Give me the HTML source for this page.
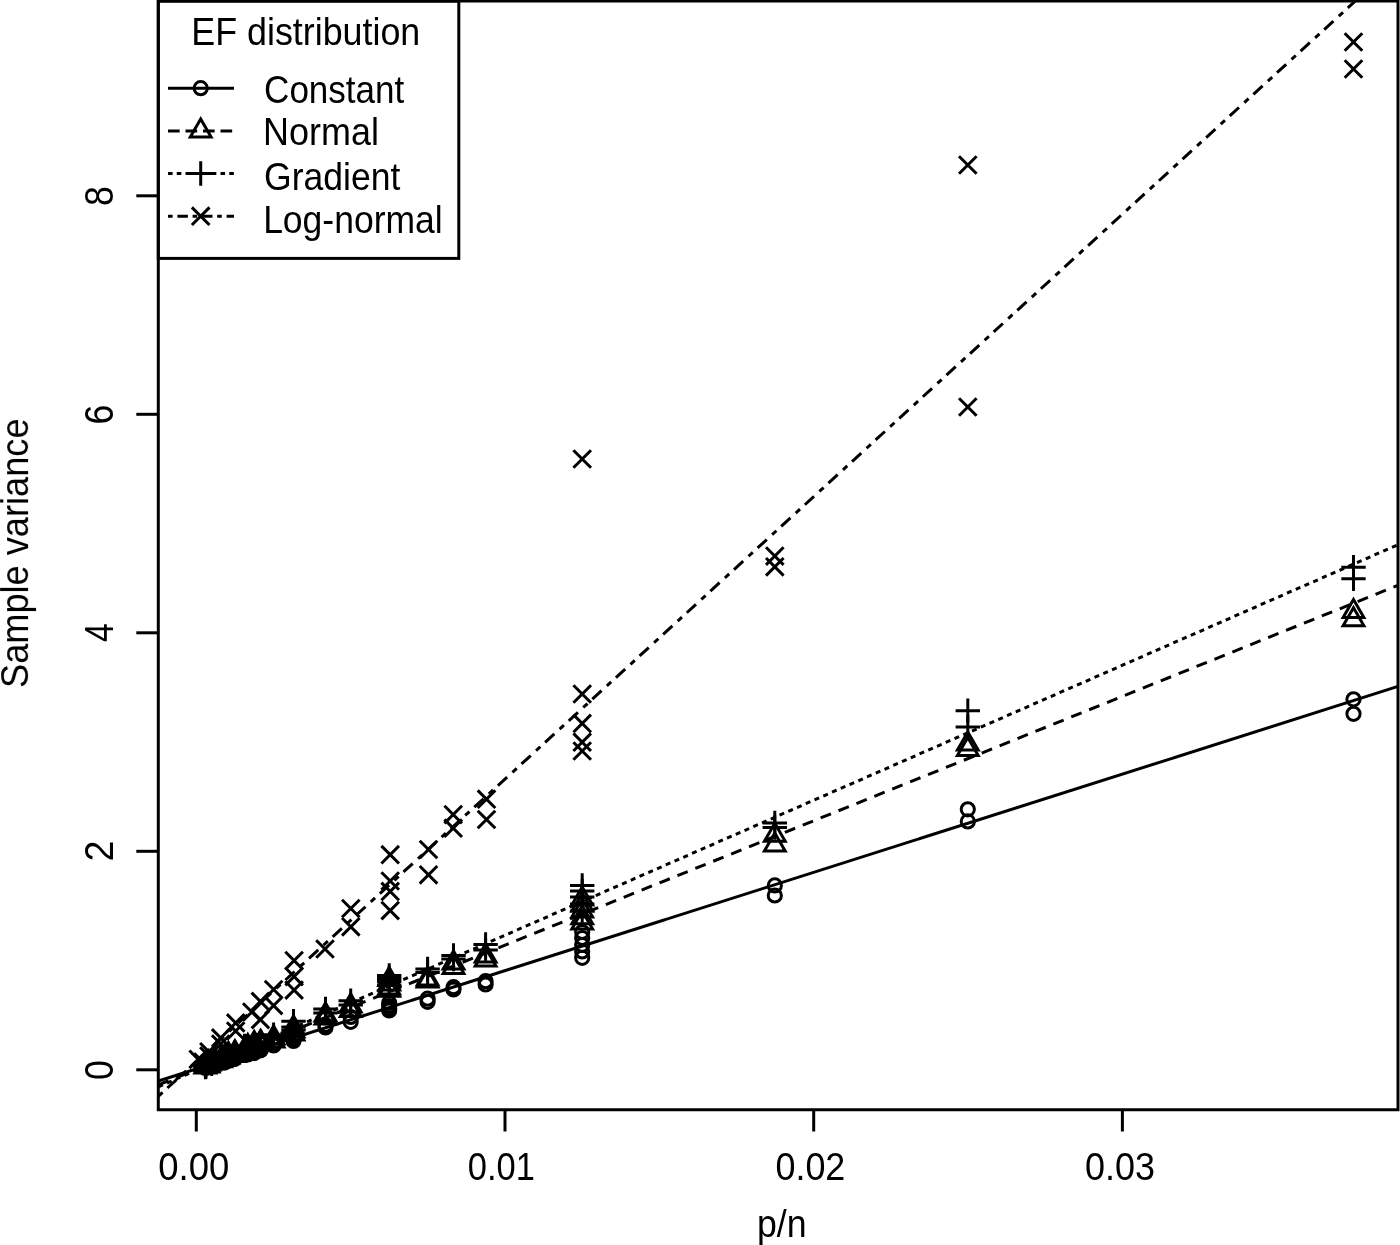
<!DOCTYPE html>
<html><head><meta charset="utf-8"><title>EF distribution plot</title>
<style>
html,body{margin:0;padding:0;background:#fff;}
body{width:1400px;height:1245px;overflow:hidden;}
svg{display:block;}
text{font-family:"Liberation Sans",Arial,Helvetica,sans-serif;fill:#000;}
.l{stroke:#000;stroke-width:3.0;fill:none;stroke-linecap:butt;}
.s{stroke:#000;stroke-width:3;fill:none;stroke-linecap:square;}
</style></head><body>
<svg width="1400" height="1245" viewBox="0 0 1400 1245">
<defs><clipPath id="cp"><rect x="158.3" y="0" width="1240" height="1109.7"/></clipPath>
<filter id="b" x="-2%" y="-2%" width="104%" height="104%"><feGaussianBlur stdDeviation="0.6"/></filter></defs>
<rect width="1400" height="1245" fill="#fff"/>
<g filter="url(#b)">

<path class="s" d="M158.3 1.1H1398.0V1109.7H158.3Z"/>
<path class="l" d="M196.3 1109.7V1131.5"/>
<path class="l" d="M505.0 1109.7V1131.5"/>
<path class="l" d="M813.7 1109.7V1131.5"/>
<path class="l" d="M1122.4 1109.7V1131.5"/>
<text transform="translate(158.30 1179.60) scale(0.9479 1.0)" font-size="38.5">0.00</text>
<text transform="translate(467.81 1179.60) scale(0.8958 1.0)" font-size="38.5">0.01</text>
<text transform="translate(775.44 1179.60) scale(0.9324 1.0)" font-size="38.5">0.02</text>
<text transform="translate(1084.93 1179.60) scale(0.9338 1.0)" font-size="38.5">0.03</text>
<path class="l" d="M158.3 1069.8H136.3"/>
<text transform="translate(112.90 1080.01) rotate(-90) scale(0.9278 1.07)" font-size="38.5">0</text>
<path class="l" d="M158.3 851.3H136.3"/>
<text transform="translate(112.90 861.61) rotate(-90) scale(0.9824 1.07)" font-size="38.5">2</text>
<path class="l" d="M158.3 632.8H136.3"/>
<text transform="translate(112.90 642.03) rotate(-90) scale(0.8789 1.07)" font-size="38.5">4</text>
<path class="l" d="M158.3 414.3H136.3"/>
<text transform="translate(112.90 424.51) rotate(-90) scale(0.9278 1.07)" font-size="38.5">6</text>
<path class="l" d="M158.3 195.8H136.3"/>
<text transform="translate(112.90 206.01) rotate(-90) scale(0.9278 1.07)" font-size="38.5">8</text>
<text transform="translate(756.92 1237.00) scale(0.9271 1.0)" font-size="38.5">p/n</text>
<text transform="translate(28.10 687.98) rotate(-90) scale(0.9403 1.0)" font-size="38.5">Sample variance</text>
<g clip-path="url(#cp)">
<path class="l" stroke-width="2.9" d="M158.3 1081.0L1398.0 686.4"/>
<path class="l" stroke-width="2.85" d="M158.3 1084.9L1398.0 585.3" stroke-dasharray="11.1 8.2"/>
<path class="l" stroke-width="2.9" d="M158.3 1086.9L1398.0 544.7" stroke-dasharray="5.0 4.55"/>
<path class="l" stroke-width="2.3" d="M158.3 1096.3L1398.0 -38.0" stroke-dasharray="5.8 6.5 12.5 7.2"/>
<circle class="l" stroke-width="2.5" cx="1353.5" cy="699.3" r="6.6"/>
<circle class="l" stroke-width="2.5" cx="1353.5" cy="713.8" r="6.6"/>
<circle class="l" stroke-width="2.5" cx="967.8" cy="809.3" r="6.6"/>
<circle class="l" stroke-width="2.5" cx="967.8" cy="821.4" r="6.6"/>
<circle class="l" stroke-width="2.5" cx="774.8" cy="885.4" r="6.6"/>
<circle class="l" stroke-width="2.5" cx="774.8" cy="895.5" r="6.6"/>
<circle class="l" stroke-width="2.5" cx="582.2" cy="932.0" r="6.6"/>
<circle class="l" stroke-width="2.5" cx="582.2" cy="938.0" r="6.6"/>
<circle class="l" stroke-width="2.5" cx="582.2" cy="945.0" r="6.6"/>
<circle class="l" stroke-width="2.5" cx="582.2" cy="951.5" r="6.6"/>
<circle class="l" stroke-width="2.5" cx="582.2" cy="957.8" r="6.6"/>
<circle class="l" stroke-width="2.5" cx="485.6" cy="981.2" r="6.6"/>
<circle class="l" stroke-width="2.5" cx="485.6" cy="984.5" r="6.6"/>
<circle class="l" stroke-width="2.5" cx="453.5" cy="987.2" r="6.6"/>
<circle class="l" stroke-width="2.5" cx="453.5" cy="989.5" r="6.6"/>
<circle class="l" stroke-width="2.5" cx="427.6" cy="998.7" r="6.6"/>
<circle class="l" stroke-width="2.5" cx="427.6" cy="1001.8" r="6.6"/>
<circle class="l" stroke-width="2.5" cx="389.2" cy="1003.0" r="6.6"/>
<circle class="l" stroke-width="2.5" cx="389.2" cy="1006.0" r="6.6"/>
<circle class="l" stroke-width="2.5" cx="389.2" cy="1008.5" r="6.6"/>
<circle class="l" stroke-width="2.5" cx="389.2" cy="1010.5" r="6.6"/>
<circle class="l" stroke-width="2.5" cx="350.7" cy="1017.0" r="6.6"/>
<circle class="l" stroke-width="2.5" cx="350.7" cy="1021.8" r="6.6"/>
<circle class="l" stroke-width="2.5" cx="325.5" cy="1025.0" r="6.6"/>
<circle class="l" stroke-width="2.5" cx="325.5" cy="1027.5" r="6.6"/>
<circle class="l" stroke-width="2.5" cx="293.5" cy="1036.0" r="6.6"/>
<circle class="l" stroke-width="2.5" cx="293.5" cy="1038.5" r="6.6"/>
<circle class="l" stroke-width="2.5" cx="293.5" cy="1041.0" r="6.6"/>
<circle class="l" stroke-width="2.5" cx="273.6" cy="1043.0" r="6.6"/>
<circle class="l" stroke-width="2.5" cx="273.6" cy="1045.5" r="6.6"/>
<circle class="l" stroke-width="2.5" cx="260.6" cy="1050.3" r="6.6"/>
<circle class="l" stroke-width="2.5" cx="260.6" cy="1049.8" r="6.6"/>
<circle class="l" stroke-width="2.5" cx="260.6" cy="1049.1" r="6.6"/>
<circle class="l" stroke-width="2.5" cx="254.2" cy="1051.7" r="6.6"/>
<circle class="l" stroke-width="2.5" cx="254.2" cy="1052.0" r="6.6"/>
<circle class="l" stroke-width="2.5" cx="254.2" cy="1053.1" r="6.6"/>
<circle class="l" stroke-width="2.5" cx="247.8" cy="1051.8" r="6.6"/>
<circle class="l" stroke-width="2.5" cx="247.8" cy="1054.5" r="6.6"/>
<circle class="l" stroke-width="2.5" cx="247.8" cy="1051.0" r="6.6"/>
<circle class="l" stroke-width="2.5" cx="244.5" cy="1054.1" r="6.6"/>
<circle class="l" stroke-width="2.5" cx="244.5" cy="1054.6" r="6.6"/>
<circle class="l" stroke-width="2.5" cx="244.5" cy="1053.9" r="6.6"/>
<circle class="l" stroke-width="2.5" cx="234.9" cy="1058.8" r="6.6"/>
<circle class="l" stroke-width="2.5" cx="234.9" cy="1056.1" r="6.6"/>
<circle class="l" stroke-width="2.5" cx="234.9" cy="1057.1" r="6.6"/>
<circle class="l" stroke-width="2.5" cx="228.4" cy="1059.3" r="6.6"/>
<circle class="l" stroke-width="2.5" cx="228.4" cy="1060.5" r="6.6"/>
<circle class="l" stroke-width="2.5" cx="228.4" cy="1060.6" r="6.6"/>
<circle class="l" stroke-width="2.5" cx="225.2" cy="1060.1" r="6.6"/>
<circle class="l" stroke-width="2.5" cx="225.2" cy="1060.0" r="6.6"/>
<circle class="l" stroke-width="2.5" cx="221.0" cy="1062.2" r="6.6"/>
<circle class="l" stroke-width="2.5" cx="221.0" cy="1060.4" r="6.6"/>
<circle class="l" stroke-width="2.5" cx="215.6" cy="1063.1" r="6.6"/>
<circle class="l" stroke-width="2.5" cx="215.6" cy="1061.8" r="6.6"/>
<circle class="l" stroke-width="2.5" cx="211.7" cy="1065.0" r="6.6"/>
<circle class="l" stroke-width="2.5" cx="211.7" cy="1065.4" r="6.6"/>
<circle class="l" stroke-width="2.5" cx="208.6" cy="1064.5" r="6.6"/>
<circle class="l" stroke-width="2.5" cx="208.6" cy="1065.6" r="6.6"/>
<circle class="l" stroke-width="2.5" cx="205.9" cy="1065.8" r="6.6"/>
<circle class="l" stroke-width="2.5" cx="205.9" cy="1065.9" r="6.6"/>
<circle class="l" stroke-width="2.5" cx="205.4" cy="1068.0" r="6.6"/>
<path class="l" stroke-width="2.7" stroke-linejoin="miter" d="M1353.5 599.5L1363.9 617.5H1343.1Z"/>
<path class="l" stroke-width="2.7" stroke-linejoin="miter" d="M1353.5 607.7L1363.9 625.7H1343.1Z"/>
<path class="l" stroke-width="2.7" stroke-linejoin="miter" d="M967.8 732.1L978.2 750.1H957.4Z"/>
<path class="l" stroke-width="2.7" stroke-linejoin="miter" d="M967.8 737.5L978.2 755.5H957.4Z"/>
<path class="l" stroke-width="2.7" stroke-linejoin="miter" d="M774.8 823.3L785.2 841.3H764.4Z"/>
<path class="l" stroke-width="2.7" stroke-linejoin="miter" d="M774.8 833.0L785.2 851.0H764.4Z"/>
<path class="l" stroke-width="2.7" stroke-linejoin="miter" d="M582.2 887.0L592.6 905.0H571.8Z"/>
<path class="l" stroke-width="2.7" stroke-linejoin="miter" d="M582.2 893.0L592.6 911.0H571.8Z"/>
<path class="l" stroke-width="2.7" stroke-linejoin="miter" d="M582.2 899.0L592.6 917.0H571.8Z"/>
<path class="l" stroke-width="2.7" stroke-linejoin="miter" d="M582.2 905.7L592.6 923.7H571.8Z"/>
<path class="l" stroke-width="2.7" stroke-linejoin="miter" d="M582.2 911.0L592.6 929.0H571.8Z"/>
<path class="l" stroke-width="2.7" stroke-linejoin="miter" d="M485.6 944.1L496.0 962.1H475.2Z"/>
<path class="l" stroke-width="2.7" stroke-linejoin="miter" d="M485.6 948.1L496.0 966.1H475.2Z"/>
<path class="l" stroke-width="2.7" stroke-linejoin="miter" d="M453.5 951.1L463.9 969.1H443.1Z"/>
<path class="l" stroke-width="2.7" stroke-linejoin="miter" d="M453.5 955.6L463.9 973.6H443.1Z"/>
<path class="l" stroke-width="2.7" stroke-linejoin="miter" d="M427.6 967.1L438.0 985.1H417.2Z"/>
<path class="l" stroke-width="2.7" stroke-linejoin="miter" d="M427.6 969.1L438.0 987.1H417.2Z"/>
<path class="l" stroke-width="2.7" stroke-linejoin="miter" d="M389.2 967.5L399.6 985.5H378.8Z"/>
<path class="l" stroke-width="2.7" stroke-linejoin="miter" d="M389.2 972.0L399.6 990.0H378.8Z"/>
<path class="l" stroke-width="2.7" stroke-linejoin="miter" d="M389.2 976.0L399.6 994.0H378.8Z"/>
<path class="l" stroke-width="2.7" stroke-linejoin="miter" d="M389.2 978.2L399.6 996.2H378.8Z"/>
<path class="l" stroke-width="2.7" stroke-linejoin="miter" d="M350.7 994.0L361.1 1012.0H340.3Z"/>
<path class="l" stroke-width="2.7" stroke-linejoin="miter" d="M350.7 998.5L361.1 1016.5H340.3Z"/>
<path class="l" stroke-width="2.7" stroke-linejoin="miter" d="M325.5 1003.0L335.9 1021.0H315.1Z"/>
<path class="l" stroke-width="2.7" stroke-linejoin="miter" d="M325.5 1006.0L335.9 1024.0H315.1Z"/>
<path class="l" stroke-width="2.7" stroke-linejoin="miter" d="M293.5 1016.0L303.9 1034.0H283.1Z"/>
<path class="l" stroke-width="2.7" stroke-linejoin="miter" d="M293.5 1019.0L303.9 1037.0H283.1Z"/>
<path class="l" stroke-width="2.7" stroke-linejoin="miter" d="M293.5 1022.0L303.9 1040.0H283.1Z"/>
<path class="l" stroke-width="2.7" stroke-linejoin="miter" d="M273.6 1026.0L284.0 1044.0H263.2Z"/>
<path class="l" stroke-width="2.7" stroke-linejoin="miter" d="M273.6 1029.0L284.0 1047.0H263.2Z"/>
<path class="l" stroke-width="2.7" stroke-linejoin="miter" d="M260.6 1031.0L271.0 1049.0H250.2Z"/>
<path class="l" stroke-width="2.7" stroke-linejoin="miter" d="M260.6 1030.6L271.0 1048.6H250.2Z"/>
<path class="l" stroke-width="2.7" stroke-linejoin="miter" d="M260.6 1031.4L271.0 1049.4H250.2Z"/>
<path class="l" stroke-width="2.7" stroke-linejoin="miter" d="M254.2 1031.6L264.6 1049.6H243.8Z"/>
<path class="l" stroke-width="2.7" stroke-linejoin="miter" d="M254.2 1033.6L264.6 1051.6H243.8Z"/>
<path class="l" stroke-width="2.7" stroke-linejoin="miter" d="M254.2 1034.6L264.6 1052.6H243.8Z"/>
<path class="l" stroke-width="2.7" stroke-linejoin="miter" d="M247.8 1034.6L258.2 1052.6H237.4Z"/>
<path class="l" stroke-width="2.7" stroke-linejoin="miter" d="M247.8 1036.6L258.2 1054.6H237.4Z"/>
<path class="l" stroke-width="2.7" stroke-linejoin="miter" d="M247.8 1036.4L258.2 1054.4H237.4Z"/>
<path class="l" stroke-width="2.7" stroke-linejoin="miter" d="M244.5 1039.2L254.8 1057.2H234.1Z"/>
<path class="l" stroke-width="2.7" stroke-linejoin="miter" d="M244.5 1040.1L254.8 1058.1H234.1Z"/>
<path class="l" stroke-width="2.7" stroke-linejoin="miter" d="M244.5 1038.1L254.8 1056.1H234.1Z"/>
<path class="l" stroke-width="2.7" stroke-linejoin="miter" d="M234.9 1043.4L245.3 1061.4H224.5Z"/>
<path class="l" stroke-width="2.7" stroke-linejoin="miter" d="M234.9 1040.7L245.3 1058.7H224.5Z"/>
<path class="l" stroke-width="2.7" stroke-linejoin="miter" d="M234.9 1042.8L245.3 1060.8H224.5Z"/>
<path class="l" stroke-width="2.7" stroke-linejoin="miter" d="M228.4 1043.0L238.8 1061.0H218.0Z"/>
<path class="l" stroke-width="2.7" stroke-linejoin="miter" d="M228.4 1042.7L238.8 1060.7H218.0Z"/>
<path class="l" stroke-width="2.7" stroke-linejoin="miter" d="M228.4 1045.1L238.8 1063.1H218.0Z"/>
<path class="l" stroke-width="2.7" stroke-linejoin="miter" d="M225.2 1044.6L235.6 1062.6H214.8Z"/>
<path class="l" stroke-width="2.7" stroke-linejoin="miter" d="M225.2 1046.3L235.6 1064.3H214.8Z"/>
<path class="l" stroke-width="2.7" stroke-linejoin="miter" d="M221.0 1048.8L231.4 1066.8H210.6Z"/>
<path class="l" stroke-width="2.7" stroke-linejoin="miter" d="M221.0 1047.8L231.4 1065.8H210.6Z"/>
<path class="l" stroke-width="2.7" stroke-linejoin="miter" d="M215.6 1050.4L226.0 1068.4H205.2Z"/>
<path class="l" stroke-width="2.7" stroke-linejoin="miter" d="M215.6 1050.3L226.0 1068.3H205.2Z"/>
<path class="l" stroke-width="2.7" stroke-linejoin="miter" d="M211.7 1051.0L222.1 1069.0H201.3Z"/>
<path class="l" stroke-width="2.7" stroke-linejoin="miter" d="M211.7 1050.2L222.1 1068.2H201.3Z"/>
<path class="l" stroke-width="2.7" stroke-linejoin="miter" d="M208.6 1052.0L219.0 1070.0H198.3Z"/>
<path class="l" stroke-width="2.7" stroke-linejoin="miter" d="M208.6 1053.9L219.0 1071.9H198.3Z"/>
<path class="l" stroke-width="2.7" stroke-linejoin="miter" d="M205.9 1052.3L216.3 1070.3H195.6Z"/>
<path class="l" stroke-width="2.7" stroke-linejoin="miter" d="M205.9 1052.3L216.3 1070.3H195.6Z"/>
<path class="l" stroke-width="2.7" stroke-linejoin="miter" d="M205.4 1055.0L215.8 1073.0H195.0Z"/>
<path class="l" d="M1341.3 567.2H1365.7M1353.5 555.0V579.4"/>
<path class="l" d="M1341.3 578.8H1365.7M1353.5 566.6V591.0"/>
<path class="l" d="M955.6 710.7H980.0M967.8 698.5V722.9"/>
<path class="l" d="M955.6 726.9H980.0M967.8 714.7V739.1"/>
<path class="l" d="M762.6 823.0H787.0M774.8 810.8V835.2"/>
<path class="l" d="M762.6 827.5H787.0M774.8 815.3V839.7"/>
<path class="l" d="M570.0 885.5H594.4M582.2 873.3V897.7"/>
<path class="l" d="M570.0 891.0H594.4M582.2 878.8V903.2"/>
<path class="l" d="M570.0 897.0H594.4M582.2 884.8V909.2"/>
<path class="l" d="M570.0 904.0H594.4M582.2 891.8V916.2"/>
<path class="l" d="M570.0 911.0H594.4M582.2 898.8V923.2"/>
<path class="l" d="M473.4 944.5H497.8M485.6 932.3V956.7"/>
<path class="l" d="M473.4 950.0H497.8M485.6 937.8V962.2"/>
<path class="l" d="M441.3 955.5H465.7M453.5 943.3V967.7"/>
<path class="l" d="M441.3 959.0H465.7M453.5 946.8V971.2"/>
<path class="l" d="M415.4 969.0H439.8M427.6 956.8V981.2"/>
<path class="l" d="M415.4 972.5H439.8M427.6 960.3V984.7"/>
<path class="l" d="M377.0 975.5H401.4M389.2 963.3V987.7"/>
<path class="l" d="M377.0 978.5H401.4M389.2 966.3V990.7"/>
<path class="l" d="M377.0 981.5H401.4M389.2 969.3V993.7"/>
<path class="l" d="M377.0 985.0H401.4M389.2 972.8V997.2"/>
<path class="l" d="M338.5 1000.7H362.9M350.7 988.5V1012.9"/>
<path class="l" d="M338.5 1005.0H362.9M350.7 992.8V1017.2"/>
<path class="l" d="M313.3 1009.0H337.7M325.5 996.8V1021.2"/>
<path class="l" d="M313.3 1013.0H337.7M325.5 1000.8V1025.2"/>
<path class="l" d="M281.3 1021.3H305.7M293.5 1009.1V1033.5"/>
<path class="l" d="M281.3 1027.0H305.7M293.5 1014.8V1039.2"/>
<path class="l" d="M281.3 1030.0H305.7M293.5 1017.8V1042.2"/>
<path class="l" d="M261.4 1034.8H285.8M273.6 1022.6V1047.0"/>
<path class="l" d="M261.4 1037.5H285.8M273.6 1025.3V1049.7"/>
<path class="l" d="M248.4 1042.1H272.8M260.6 1029.9V1054.3"/>
<path class="l" d="M248.4 1042.3H272.8M260.6 1030.1V1054.5"/>
<path class="l" d="M248.4 1044.4H272.8M260.6 1032.2V1056.6"/>
<path class="l" d="M242.0 1046.3H266.4M254.2 1034.1V1058.5"/>
<path class="l" d="M242.0 1046.3H266.4M254.2 1034.1V1058.5"/>
<path class="l" d="M242.0 1046.9H266.4M254.2 1034.7V1059.1"/>
<path class="l" d="M235.6 1048.5H260.0M247.8 1036.3V1060.7"/>
<path class="l" d="M235.6 1047.0H260.0M247.8 1034.8V1059.2"/>
<path class="l" d="M235.6 1047.9H260.0M247.8 1035.7V1060.1"/>
<path class="l" d="M232.3 1049.6H256.7M244.5 1037.4V1061.8"/>
<path class="l" d="M232.3 1050.1H256.7M244.5 1037.9V1062.3"/>
<path class="l" d="M232.3 1045.9H256.7M244.5 1033.7V1058.1"/>
<path class="l" d="M222.7 1052.7H247.1M234.9 1040.5V1064.9"/>
<path class="l" d="M222.7 1054.8H247.1M234.9 1042.6V1067.0"/>
<path class="l" d="M222.7 1053.7H247.1M234.9 1041.5V1065.9"/>
<path class="l" d="M216.2 1056.1H240.6M228.4 1043.9V1068.3"/>
<path class="l" d="M216.2 1054.6H240.6M228.4 1042.4V1066.8"/>
<path class="l" d="M216.2 1056.6H240.6M228.4 1044.4V1068.8"/>
<path class="l" d="M213.0 1058.4H237.4M225.2 1046.2V1070.6"/>
<path class="l" d="M213.0 1055.1H237.4M225.2 1042.9V1067.3"/>
<path class="l" d="M208.8 1057.5H233.2M221.0 1045.3V1069.7"/>
<path class="l" d="M208.8 1059.4H233.2M221.0 1047.2V1071.6"/>
<path class="l" d="M203.4 1060.4H227.8M215.6 1048.2V1072.6"/>
<path class="l" d="M203.4 1060.0H227.8M215.6 1047.8V1072.2"/>
<path class="l" d="M199.5 1063.8H223.9M211.7 1051.6V1076.0"/>
<path class="l" d="M199.5 1060.7H223.9M211.7 1048.5V1072.9"/>
<path class="l" d="M196.4 1062.7H220.8M208.6 1050.5V1074.9"/>
<path class="l" d="M196.4 1063.0H220.8M208.6 1050.8V1075.2"/>
<path class="l" d="M193.7 1065.2H218.1M205.9 1053.0V1077.4"/>
<path class="l" d="M193.7 1066.9H218.1M205.9 1054.7V1079.1"/>
<path class="l" d="M193.2 1067.0H217.6M205.4 1054.8V1079.2"/>
<path class="l" stroke-width="2.25" d="M1344.7 33.2L1362.3 50.8M1344.7 50.8L1362.3 33.2"/>
<path class="l" stroke-width="2.25" d="M1344.7 60.2L1362.3 77.8M1344.7 77.8L1362.3 60.2"/>
<path class="l" stroke-width="2.25" d="M959.0 156.2L976.6 173.8M959.0 173.8L976.6 156.2"/>
<path class="l" stroke-width="2.25" d="M959.0 398.2L976.6 415.8M959.0 415.8L976.6 398.2"/>
<path class="l" stroke-width="2.25" d="M766.0 547.3L783.6 564.9M766.0 564.9L783.6 547.3"/>
<path class="l" stroke-width="2.25" d="M766.0 558.0L783.6 575.6M766.0 575.6L783.6 558.0"/>
<path class="l" stroke-width="2.25" d="M573.4 450.2L591.0 467.8M573.4 467.8L591.0 450.2"/>
<path class="l" stroke-width="2.25" d="M573.4 685.2L591.0 702.8M573.4 702.8L591.0 685.2"/>
<path class="l" stroke-width="2.25" d="M573.4 714.6L591.0 732.2M573.4 732.2L591.0 714.6"/>
<path class="l" stroke-width="2.25" d="M573.4 733.4L591.0 751.0M573.4 751.0L591.0 733.4"/>
<path class="l" stroke-width="2.25" d="M573.4 742.2L591.0 759.8M573.4 759.8L591.0 742.2"/>
<path class="l" stroke-width="2.25" d="M477.7 790.4L495.3 808.0M477.7 808.0L495.3 790.4"/>
<path class="l" stroke-width="2.25" d="M477.7 810.7L495.3 828.3M477.7 828.3L495.3 810.7"/>
<path class="l" stroke-width="2.25" d="M444.4 805.8L462.0 823.4M444.4 823.4L462.0 805.8"/>
<path class="l" stroke-width="2.25" d="M444.4 819.4L462.0 837.0M444.4 837.0L462.0 819.4"/>
<path class="l" stroke-width="2.25" d="M419.7 840.7L437.3 858.3M419.7 858.3L437.3 840.7"/>
<path class="l" stroke-width="2.25" d="M419.7 866.0L437.3 883.6M419.7 883.6L437.3 866.0"/>
<path class="l" stroke-width="2.25" d="M381.4 845.9L399.0 863.5M381.4 863.5L399.0 845.9"/>
<path class="l" stroke-width="2.25" d="M381.4 872.2L399.0 889.8M381.4 889.8L399.0 872.2"/>
<path class="l" stroke-width="2.25" d="M381.4 882.6L399.0 900.2M381.4 900.2L399.0 882.6"/>
<path class="l" stroke-width="2.25" d="M381.4 901.8L399.0 919.4M381.4 919.4L399.0 901.8"/>
<path class="l" stroke-width="2.25" d="M342.0 899.7L359.6 917.3M342.0 917.3L359.6 899.7"/>
<path class="l" stroke-width="2.25" d="M342.0 918.0L359.6 935.6M342.0 935.6L359.6 918.0"/>
<path class="l" stroke-width="2.25" d="M316.2 940.2L333.8 957.8M316.2 957.8L333.8 940.2"/>
<path class="l" stroke-width="2.25" d="M285.3 951.8L302.9 969.4M285.3 969.4L302.9 951.8"/>
<path class="l" stroke-width="2.25" d="M285.3 967.8L302.9 985.4M285.3 985.4L302.9 967.8"/>
<path class="l" stroke-width="2.25" d="M285.3 981.3L302.9 998.9M285.3 998.9L302.9 981.3"/>
<path class="l" stroke-width="2.25" d="M264.8 980.7L282.4 998.3M264.8 998.3L282.4 980.7"/>
<path class="l" stroke-width="2.25" d="M264.8 996.8L282.4 1014.4M264.8 1014.4L282.4 996.8"/>
<path class="l" stroke-width="2.25" d="M251.6 992.6L269.2 1010.2M251.6 1010.2L269.2 992.6"/>
<path class="l" stroke-width="2.25" d="M251.6 1010.8L269.2 1028.4M251.6 1028.4L269.2 1010.8"/>
<path class="l" stroke-width="2.25" d="M243.0 1003.2L260.6 1020.8M243.0 1020.8L260.6 1003.2"/>
<path class="l" stroke-width="2.25" d="M226.9 1014.1L244.5 1031.7M226.9 1031.7L244.5 1014.1"/>
<path class="l" stroke-width="2.25" d="M226.9 1022.2L244.5 1039.8M226.9 1039.8L244.5 1022.2"/>
<path class="l" stroke-width="2.25" d="M211.9 1029.1L229.5 1046.7M211.9 1046.7L229.5 1029.1"/>
<path class="l" stroke-width="2.25" d="M211.9 1035.2L229.5 1052.8M211.9 1052.8L229.5 1035.2"/>
<path class="l" stroke-width="2.25" d="M200.1 1043.0L217.7 1060.6M200.1 1060.6L217.7 1043.0"/>
<path class="l" stroke-width="2.25" d="M200.1 1047.2L217.7 1064.8M200.1 1064.8L217.7 1047.2"/>
<path class="l" stroke-width="2.25" d="M189.4 1050.5L207.0 1068.1M189.4 1068.1L207.0 1050.5"/>
<path class="l" stroke-width="2.25" d="M194.2 1053.2L211.8 1070.8M194.2 1070.8L211.8 1053.2"/>
</g>
<rect x="158.3" y="1.1" width="300.5" height="257.3" fill="#fff" class="s"/>
<text transform="translate(191.31 44.60) scale(0.9307 1.0)" font-size="38.5">EF distribution</text>
<path class="l" d="M168 88.2H234"/>
<text transform="translate(264.08 103.10) scale(0.9105 1.0)" font-size="38.5">Constant</text>
<path class="l" d="M168 131H234" stroke-dasharray="11.67 5.83"/>
<text transform="translate(263.10 145.00) scale(0.9339 1.0)" font-size="38.5">Normal</text>
<path class="l" d="M168 173.5H234" stroke-dasharray="4.6 4.15"/>
<text transform="translate(264.05 190.00) scale(0.9228 1.0)" font-size="38.5">Gradient</text>
<path class="l" d="M168 216.2H234" stroke-dasharray="4.6 4.8 10.5 4.7"/>
<text transform="translate(263.13 232.80) scale(0.9222 1.0)" font-size="38.5">Log-normal</text>
<circle class="l" stroke-width="2.5" cx="200.7" cy="88.2" r="6.6"/>
<path class="l" stroke-width="2.7" stroke-linejoin="miter" d="M200.7 119.0L211.1 137.0H190.3Z"/>
<path class="l" d="M188.5 173.5H212.9M200.7 161.3V185.7"/>
<path class="l" stroke-width="2.25" d="M191.9 207.4L209.5 225.0M191.9 225.0L209.5 207.4"/>
</g></svg></body></html>
